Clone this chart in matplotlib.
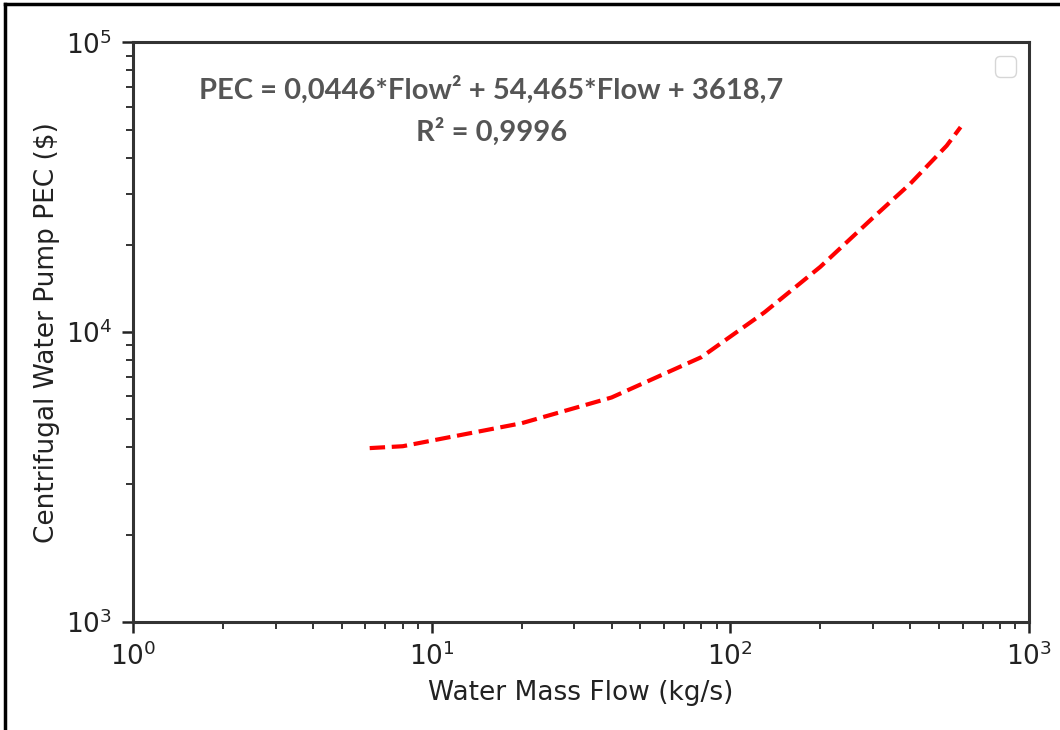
import matplotlib.pyplot as plt
from matplotlib.lines import Line2D

# Pump purchase cost vs water mass flow
flow = [6.2, 8, 20, 40, 80, 130, 200, 300, 400, 530, 590]
pec = [3980, 4040, 4850, 5950, 8200, 11700, 16800, 24800, 32500, 44000, 51000]

fit_text = "PEC = 0,0446*Flow\u00b2 + 54,465*Flow + 3618,7"
r2_text = "R\u00b2 = 0,9996"

fig = plt.figure(figsize=(10.6, 7.3), dpi=100)
ax = fig.add_axes([0.1255, 0.148, 0.8453, 0.794])

ax.plot(flow, pec, color='red', linestyle='--', linewidth=3)
ax.set_xscale('log')
ax.set_yscale('log')
ax.set_xlim(1, 1000)
ax.set_ylim(1000, 100000)

ax.set_xlabel('Water Mass Flow (kg/s)', fontsize=19, color='#222222', labelpad=6)
ax.set_ylabel('Centrifugal Water Pump PEC ($)', fontsize=19, color='#222222')
ax.tick_params(which='major', labelsize=19, length=8, width=1.8, colors='#222222', pad=7)
ax.tick_params(which='minor', length=5, width=1.4, colors='#333333')
for s in ax.spines.values():
    s.set_linewidth(2.2)
    s.set_color('#333333')

ax.text(0.40, 0.918, fit_text, transform=ax.transAxes, ha='center', va='center',
        fontsize=21, fontweight='bold', family=['Lato', 'DejaVu Sans'], color='#555555')
ax.text(0.40, 0.845, r2_text, transform=ax.transAxes, ha='center', va='center',
        fontsize=21, fontweight='bold', family=['Lato', 'DejaVu Sans'], color='#555555')

# empty legend box, as in the source figure
ax.legend(handles=[], loc='upper right', fontsize=19)

# outer frame lines (left and top)
fig.add_artist(Line2D([0.005, 0.005], [0, 0.994], transform=fig.transFigure, color='black', lw=2.5))
fig.add_artist(Line2D([0.005, 1.0], [0.994, 0.994], transform=fig.transFigure, color='black', lw=2.5))

fig.savefig('out.png', dpi=100)
